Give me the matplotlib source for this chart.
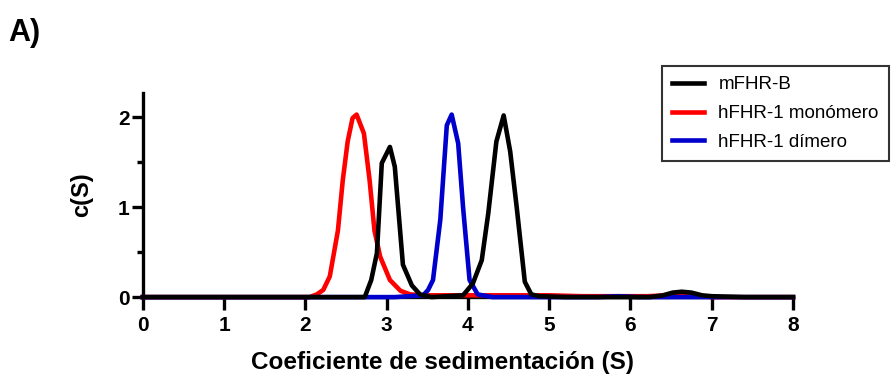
import numpy as np
import matplotlib
matplotlib.use("Agg")
import matplotlib.pyplot as plt
from matplotlib.ticker import MultipleLocator

plt.rcParams['font.family'] = ['Liberation Sans', 'DejaVu Sans']

# datos (coeficiente de sedimentacion S, c(S))
mfhr_x = [0, 2.6, 2.73, 2.81, 2.88, 2.94, 3.04, 3.10, 3.20, 3.31, 3.41, 3.55, 3.94,
          4.06, 4.17, 4.25, 4.35, 4.44, 4.52, 4.60, 4.70, 4.78, 4.88, 5.2, 5.8,
          6.24, 6.40, 6.52, 6.63, 6.75, 6.88, 7.0, 7.4, 8.0]
mfhr_y = [0, 0, 0.0, 0.19, 0.49, 1.49, 1.67, 1.45, 0.36, 0.13, 0.03, 0.0, 0.02,
          0.15, 0.41, 0.93, 1.73, 2.02, 1.62, 1.0, 0.17, 0.03, 0.01, 0.0, 0.0,
          0.0, 0.02, 0.05, 0.06, 0.05, 0.02, 0.01, 0.0, 0.0]

mono_x = [0, 2.05, 2.14, 2.22, 2.30, 2.40, 2.46, 2.52, 2.58, 2.63, 2.72, 2.79,
          2.85, 2.92, 3.04, 3.17, 3.29, 3.5, 4.5, 5.0, 5.4, 6.2, 6.45, 6.6,
          6.75, 7.0, 8.0]
mono_y = [0, 0, 0.03, 0.08, 0.23, 0.74, 1.30, 1.73, 1.99, 2.03, 1.82, 1.30,
          0.74, 0.45, 0.19, 0.07, 0.03, 0.02, 0.02, 0.02, 0.01, 0.01, 0.02, 0.03,
          0.02, 0.0, 0.0]

dim_x = [0, 2.7, 3.1, 3.45, 3.51, 3.57, 3.66, 3.74, 3.80, 3.88, 3.94, 4.02,
         4.12, 4.3, 5.6, 5.85, 6.1, 8.0]
dim_y = [0, 0, 0.0, 0.02, 0.08, 0.19, 0.86, 1.91, 2.03, 1.71, 1.0, 0.19,
         0.03, 0.0, 0.0, 0.01, 0.0, 0.0]

x_ticks = [0, 1, 2, 3, 4, 5, 6, 7, 8]
y_ticks = [0, 1, 2]

fig = plt.figure(figsize=(8.93, 3.78), dpi=100)
ax = fig.add_axes([0.160, 0.214, 0.728, 0.540])

ax.plot(mono_x, mono_y, color='#ff0000', lw=3.3, clip_on=False, zorder=3,
        label='hFHR-1 monómero')
ax.plot(dim_x, dim_y, color='#0000cc', lw=3.3, clip_on=False, zorder=3,
        label='hFHR-1 dímero')
ax.plot(mfhr_x, mfhr_y, color='black', lw=3.3, clip_on=False, zorder=4,
        label='mFHR-B')

ax.set_xlim(0, 8)
ax.set_ylim(0, 2.27)
ax.set_xticks(x_ticks)
ax.set_yticks(y_ticks)
ax.yaxis.set_minor_locator(MultipleLocator(0.5))

for s in ['top', 'right']:
    ax.spines[s].set_visible(False)
for s in ['left', 'bottom']:
    ax.spines[s].set_linewidth(2.4)

ax.tick_params(axis='x', which='major', length=9, width=2.4,
               labelsize=15, pad=4.5)
ax.tick_params(axis='y', which='major', length=8, width=2.4,
               labelsize=15, pad=1.5)
ax.tick_params(axis='y', which='minor', length=4.5, width=2.4)
for lab in ax.get_xticklabels() + ax.get_yticklabels():
    lab.set_fontweight('bold')

ax.set_xlabel('Coeficiente de sedimentación (S)', fontsize=17.5,
              fontweight='bold')
ax.xaxis.set_label_coords(0.4615, -0.265)
ax.set_ylabel('c(S)', fontsize=17, fontweight='bold', labelpad=18)

fig.text(0.009, 1 - 41 / 378, 'A)', fontsize=22, fontweight='bold')

h, l = ax.get_legend_handles_labels()
order = [2, 0, 1]
leg = fig.legend([h[i] for i in order], [l[i] for i in order],
                 loc='upper right', bbox_to_anchor=(889 / 893, 1 - 66 / 378),
                 fontsize=13.5, frameon=True, fancybox=False,
                 handlelength=1.7, handletextpad=0.75, labelspacing=0.62,
                 borderpad=0.55, borderaxespad=0)
leg.get_frame().set_edgecolor('black')
leg.get_frame().set_linewidth(1.5)

fig.savefig('out.png', dpi=100)
